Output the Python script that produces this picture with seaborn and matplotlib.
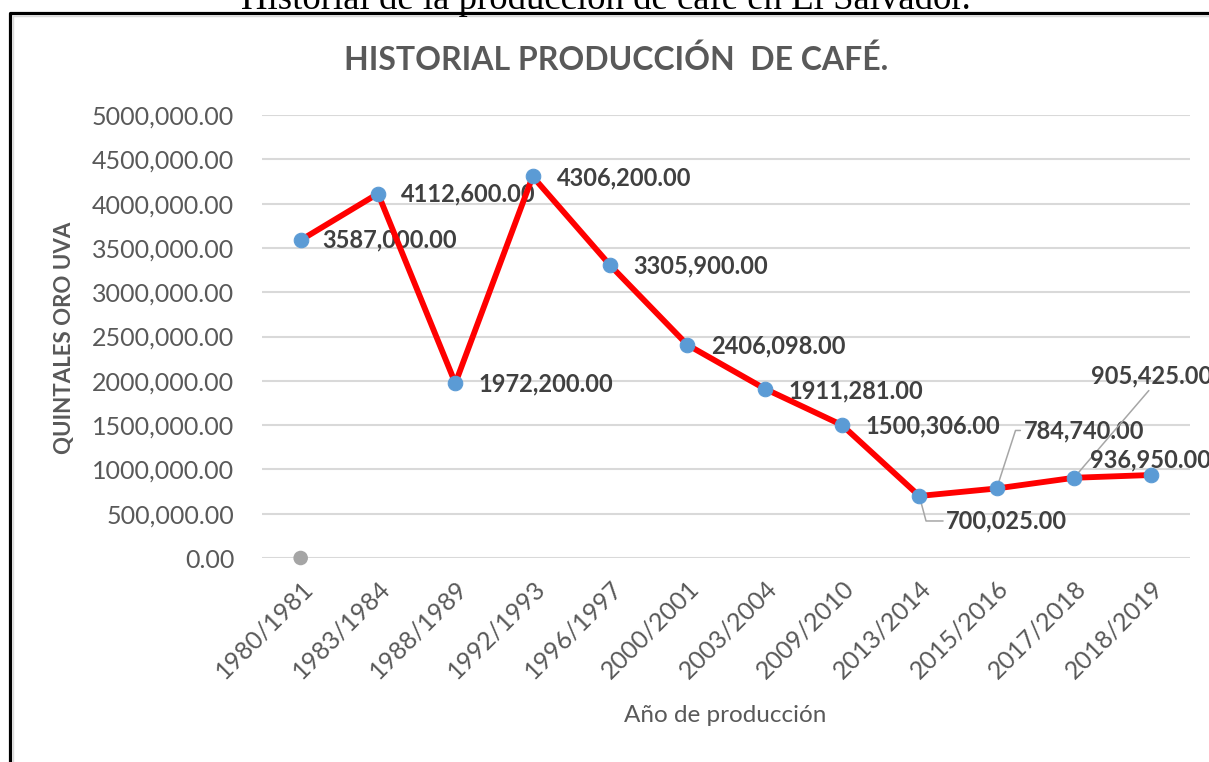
import matplotlib.pyplot as plt
import matplotlib.lines as mlines
import seaborn as sns
import numpy as np
import pandas as pd

# data
periodos = ['1980/1981', '1983/1984', '1988/1989', '1992/1993', '1996/1997', '2000/2001',
            '2003/2004', '2009/2010', '2013/2014', '2015/2016', '2017/2018', '2018/2019']
quintales = [3587000.00, 4112600.00, 1972200.00, 4306200.00, 3305900.00, 2406098.00,
             1911281.00, 1500306.00, 700025.00, 784740.00, 905425.00, 936950.00]
serie2_periodo = ['1980/1981']
serie2_valor = [0.0]
yticks = np.arange(0, 5000001, 500000)

# label offsets in pixels (dx, dy) from each point
offsets = [(22, 0), (23, 0), (23, -1), (24, -1), (23, -1), (24, -1),
           (24, -2), (23, -1), (27, -25), (27, 58), (17, 102), (-61, 15)]
leaders = {8: 'angle,angleA=0,angleB=-75', 9: 'angle,angleA=0,angleB=72', 10: 'arc3'}


def fmt(v):
    if v >= 1000:
        miles = int(v) // 1000
        return f"{miles},{v - miles * 1000:06.2f}"
    return f"{v:.2f}"


df = pd.DataFrame({'pos': np.arange(len(periodos)), 'Periodo': periodos, 'Quintales': quintales})
pos2 = [periodos.index(p) for p in serie2_periodo]

sns.set_style('white')
plt.rcParams['font.family'] = ['Lato', 'DejaVu Sans']

fig = plt.figure(figsize=(12.09, 7.62), dpi=100)
ax = fig.add_axes([262 / 1209, 1 - 558 / 762, (1190 - 262) / 1209, (558 - 115) / 762])

gris = '#595959'
for t in yticks:
    ax.axhline(t, color='#D9D9D9', lw=1.5, zorder=0)

sns.lineplot(data=df, x='pos', y='Quintales', ax=ax, color='#FF0000', lw=4.2, marker='o',
             markersize=10.5, markerfacecolor='#5B9BD5', markeredgecolor='#5B9BD5',
             clip_on=False, zorder=3)
sns.scatterplot(x=pos2, y=serie2_valor, ax=ax, color='#A5A5A5', s=110, edgecolor='none',
                clip_on=False, zorder=3)

for i, (v, (dx, dy)) in enumerate(zip(quintales, offsets)):
    kw = {}
    if i in leaders:
        kw['arrowprops'] = dict(arrowstyle='-', color='#A6A6A6', lw=1.1, shrinkA=0, shrinkB=0,
                                connectionstyle=leaders[i],
                                relpos=(0.5, 0.0) if leaders[i] == 'arc3' else (0.0, 0.5))
    ax.annotate(fmt(v), (i, v), xytext=(dx, dy), textcoords='offset pixels', ha='left',
                va='center', fontsize=17, fontweight='bold', color='#404040',
                annotation_clip=False, zorder=2, **kw)

ax.set_xlim(-0.5, len(periodos) - 0.5)
ax.set_ylim(0, 5000000)
ax.set_yticks(yticks)
ax.set_yticklabels([fmt(t) for t in yticks], fontsize=18, color=gris)
ax.set_xticks(np.arange(len(periodos)))
ax.set_xticklabels(periodos, fontsize=18, color=gris, rotation=45, ha='right',
                   rotation_mode='anchor')
ax.tick_params(axis='y', length=0, pad=20)
ax.tick_params(axis='x', length=0, pad=13)
sns.despine(ax=ax, left=True, bottom=True)
ax.set_ylabel('QUINTALES ORO UVA', fontsize=16, fontweight='bold', color=gris)
ax.yaxis.set_label_coords(75 / 1209, 1 - 338 / 762, transform=fig.transFigure)
ax.set_xlabel('Año de producción', fontsize=17.5, color=gris)
ax.xaxis.set_label_coords(725 / 1209, 1 - 705 / 762, transform=fig.transFigure)

fig.text(616 / 1209, 1 - 60 / 762, 'HISTORIAL PRODUCCIÓN  DE CAFÉ.', ha='center', va='center',
         fontsize=23, fontweight='bold', color=gris)
fig.text(606 / 1209, 1 - 9 / 762, 'Historial de la producción de café en El Salvador.',
         ha='center', va='baseline', fontsize=26.5, color='black', family=['Liberation Serif'])

# frame around the chart
fig.add_artist(mlines.Line2D([12.5 / 1209, 12.5 / 1209, 1.0], [0, 1 - 15.5 / 762, 1 - 15.5 / 762],
                             color='#D9D9D9', lw=1, transform=fig.transFigure))
fig.add_artist(mlines.Line2D([10 / 1209, 10 / 1209, 1.0], [0, 1 - 13 / 762, 1 - 13 / 762],
                             color='black', lw=2.3, transform=fig.transFigure))

fig.savefig('out.png', dpi=100)
